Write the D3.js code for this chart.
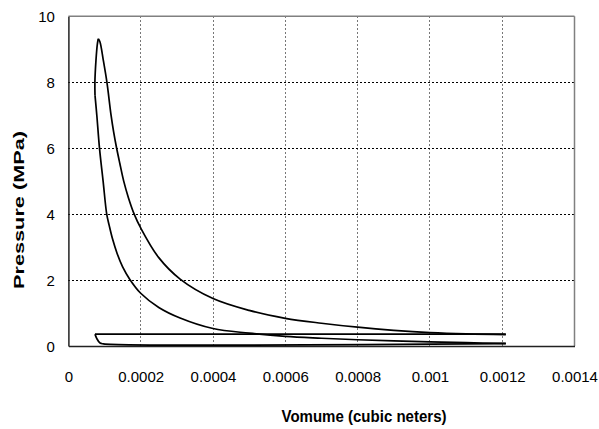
<!DOCTYPE html>
<html>
<head>
<meta charset="utf-8">
<script src="https://cdn.jsdelivr.net/npm/d3@7"></script>
<style>
  html, body { margin: 0; padding: 0; background: #fff; }
  svg { display: block; font-family: "Liberation Sans", Arial, sans-serif; }
</style>
</head>
<body>
<svg id="chart" width="599" height="429"></svg>
<script>
// ---- Data (volume in m^3, pressure in MPa) ----
const xTicks = [0, 0.0002, 0.0004, 0.0006, 0.0008, 0.001, 0.0012, 0.0014];
const xTickLabels = ["0", "0.0002", "0.0004", "0.0006", "0.0008", "0.001", "0.0012", "0.0014"];
const yTicks = [0, 2, 4, 6, 8, 10];
const yTickLabels = ["0", "2", "4", "6", "8", "10"];

const compression = [
  [0.00121, 0.08], [0.0011, 0.10], [0.001, 0.125], [0.0009, 0.155], [0.0008, 0.19],
  [0.0007, 0.235], [0.0006, 0.29], [0.0005, 0.39], [0.0004, 0.53], [0.000309, 0.85],
  [0.00025, 1.17], [0.0002, 1.6], [0.00017, 2.02], [0.00015, 2.4], [0.000135, 2.8],
  [0.000122, 3.25], [0.000113, 3.65], [0.000106, 4.0], [0.000096, 5.0], [0.000086, 6.0],
  [0.0000786, 7.0], [0.0000736, 7.6]
];
const combustion = [
  [0.0000736, 7.6], [0.0000733, 8.0], [0.0000763, 8.67], [0.00008, 9.15], [0.0000827, 9.32]
];
const expansion = [
  [0.0000827, 9.32], [0.0000874, 9.22], [0.0000965, 8.67], [0.0001065, 8.0], [0.000118, 7.0],
  [0.000125, 6.5], [0.0001325, 6.05], [0.000142, 5.55], [0.000153, 5.0], [0.000166, 4.5],
  [0.000182, 4.0], [0.0002, 3.58], [0.00025, 2.68], [0.000309, 2.03], [0.0004, 1.44],
  [0.0005, 1.08], [0.0006, 0.84], [0.0007, 0.69], [0.0008, 0.57], [0.0009, 0.475],
  [0.001, 0.405], [0.0011, 0.365], [0.00121, 0.345]
];
const exhaust = [
  [0.00121, 0.36], [0.0000736, 0.36]
];
const intake = [
  [0.0000736, 0.36], [0.0000783, 0.23], [0.0000875, 0.09], [0.0000967, 0.065], [0.00121, 0.07]
];

// ---- Layout ----
const svg = d3.select("#chart");
const pLeft = 68.4, pRight = 574.5, pTop = 16.3, pBottom = 346;
const x = d3.scaleLinear().domain([0, 0.0014]).range([pLeft, pRight]);
const y = d3.scaleLinear().domain([0, 10]).range([pBottom, pTop]);

svg.append("rect").attr("width", 599).attr("height", 429).attr("fill", "#fff");

// gridlines
svg.append("g").selectAll("line").data(xTicks.slice(1, -1)).join("line")
  .attr("x1", d => x(d)).attr("x2", d => x(d))
  .attr("y1", pTop).attr("y2", pBottom)
  .attr("stroke", "#777").attr("stroke-width", 1).attr("stroke-dasharray", "2,2")
  .attr("shape-rendering", "crispEdges");
svg.append("g").selectAll("line").data(yTicks.slice(1, -1)).join("line")
  .attr("x1", pLeft).attr("x2", pRight)
  .attr("y1", d => y(d)).attr("y2", d => y(d))
  .attr("stroke", "#000").attr("stroke-width", 1).attr("stroke-dasharray", "2,2")
  .attr("shape-rendering", "crispEdges");

// frame: top/right gray, left/bottom axes dark
svg.append("line").attr("x1", pLeft).attr("x2", pRight).attr("y1", pTop).attr("y2", pTop)
  .attr("stroke", "#808080").attr("stroke-width", 1.5);
svg.append("line").attr("x1", pRight).attr("x2", pRight).attr("y1", pTop).attr("y2", pBottom)
  .attr("stroke", "#808080").attr("stroke-width", 1.5);

// axes via d3 (no tick marks)
const xAxis = d3.axisBottom(x).tickValues(xTicks).tickSize(0)
  .tickFormat((d, i) => xTickLabels[i]);
const yAxis = d3.axisLeft(y).tickValues(yTicks).tickSize(0)
  .tickFormat((d, i) => yTickLabels[i]);

const gx = svg.append("g").attr("transform", `translate(0,${pBottom})`).call(xAxis);
gx.select(".domain").attr("stroke", "#222").attr("stroke-width", 1.5);
gx.selectAll("text").attr("font-size", 15).attr("font-family", "Liberation Sans, Arial, sans-serif")
  .attr("fill", "#000").attr("dy", null).attr("y", 36);

const gy = svg.append("g").attr("transform", `translate(${pLeft},0)`).call(yAxis);
gy.select(".domain").attr("stroke", "#222").attr("stroke-width", 1.5);
gy.selectAll("text").attr("font-size", 15).attr("font-family", "Liberation Sans, Arial, sans-serif")
  .attr("fill", "#000").attr("x", -13.5).attr("dy", "0.36em");

// cycle curves
const line = d3.line().x(d => x(d[0])).y(d => y(d[1])).curve(d3.curveCatmullRom.alpha(0.5));
const lineStraight = d3.line().x(d => x(d[0])).y(d => y(d[1]));
const curveG = svg.append("g").attr("fill", "none").attr("stroke", "#000")
  .attr("stroke-width", 1.7).attr("stroke-linejoin", "round");
[compression, combustion, expansion, intake].forEach(seg => {
  curveG.append("path").attr("d", line(seg));
});
curveG.append("path").attr("d", lineStraight(exhaust));

// axis titles
svg.append("text")
  .attr("transform", "translate(24,210) rotate(-90)")
  .attr("text-anchor", "middle")
  .attr("font-size", 14).attr("font-weight", "bold")
  .attr("textLength", 158).attr("lengthAdjust", "spacingAndGlyphs")
  .attr("fill", "#000")
  .text("Pressure (MPa)");

svg.append("text")
  .attr("x", 364).attr("y", 421.5)
  .attr("text-anchor", "middle")
  .attr("font-size", 16).attr("font-weight", "bold")
  .attr("textLength", 165).attr("lengthAdjust", "spacingAndGlyphs")
  .attr("fill", "#000")
  .text("Vomume (cubic neters)");
</script>
</body>
</html>
